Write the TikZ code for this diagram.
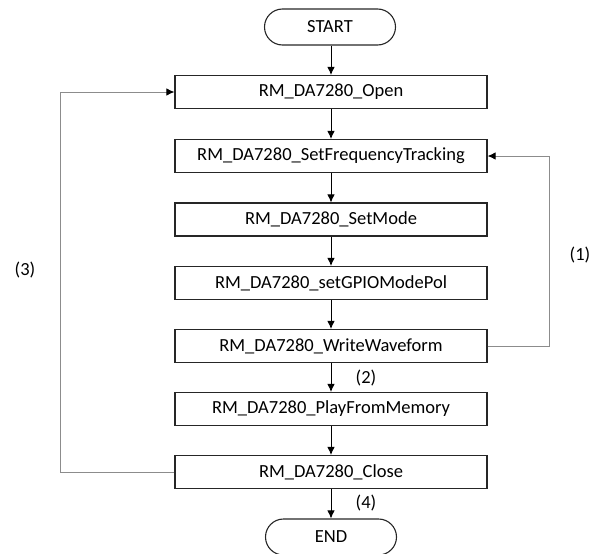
\documentclass[tikz,border=0pt]{standalone}
\usepackage{fontspec}
\setmainfont{Carlito}
\usetikzlibrary{shapes.misc,arrows.meta}
\begin{document}
\begin{tikzpicture}[x=1pt,y=-1pt,
  every node/.style={font=\fontsize{18.5}{21}\selectfont},
  proc/.style={draw=black!85,line width=1.1pt,minimum width=312pt,minimum height=33pt,inner sep=0pt},
  term/.style={draw=black!85,line width=1.1pt,rounded rectangle,minimum width=131pt,minimum height=36pt,inner sep=0pt},
  flow/.style={draw=black,line width=0.9pt,-{Latex[length=8pt,width=7.5pt]}},
  loop/.style={draw=black!45,line width=1pt,-{Latex[length=8pt,width=7.5pt,fill=black,color=black]}},
  lbl/.style={inner sep=0pt}]
\useasboundingbox (0,0) rectangle (589,554);
\node[term] (start) at (330,27) {START};
\node[proc] (open) at (331,92) {RM\_DA7280\_Open};
\node[proc] (sft) at (331,156) {RM\_DA7280\_SetFrequencyTracking};
\node[proc] (mode) at (331,219.5) {RM\_DA7280\_SetMode};
\node[proc] (gpio) at (331,283) {RM\_DA7280\_setGPIOModePol};
\node[proc] (ww) at (331,346) {RM\_DA7280\_WriteWaveform};
\node[proc] (pfm) at (331,409) {RM\_DA7280\_PlayFromMemory};
\node[proc] (close) at (331,472) {RM\_DA7280\_Close};
\node[term] (end) at (331,537) {END};
\draw[flow] (start.south -| open.north) -- (open.north);
\draw[flow] (open) -- (sft);
\draw[flow] (sft) -- (mode);
\draw[flow] (mode) -- (gpio);
\draw[flow] (gpio) -- (ww);
\draw[flow] (ww) -- (pfm);
\draw[flow] (pfm) -- (close);
\draw[flow] (close) -- (end);
\coordinate (r1) at (549,346);
\coordinate (r2) at (549,156);
\coordinate (l1) at (60,472);
\coordinate (l2) at (60,92);
\draw[loop] (ww.east) -- (r1) -- (r2) -- (sft.east);
\draw[loop] (close.west) -- (l1) -- (l2) -- (open.west);
\node[lbl] (n1) at (580,255) {(1)};
\node[lbl] (n2) at (366,378) {(2)};
\node[lbl] (n3) at (25,270) {(3)};
\node[lbl] (n4) at (366,503) {(4)};
\end{tikzpicture}
\end{document}
